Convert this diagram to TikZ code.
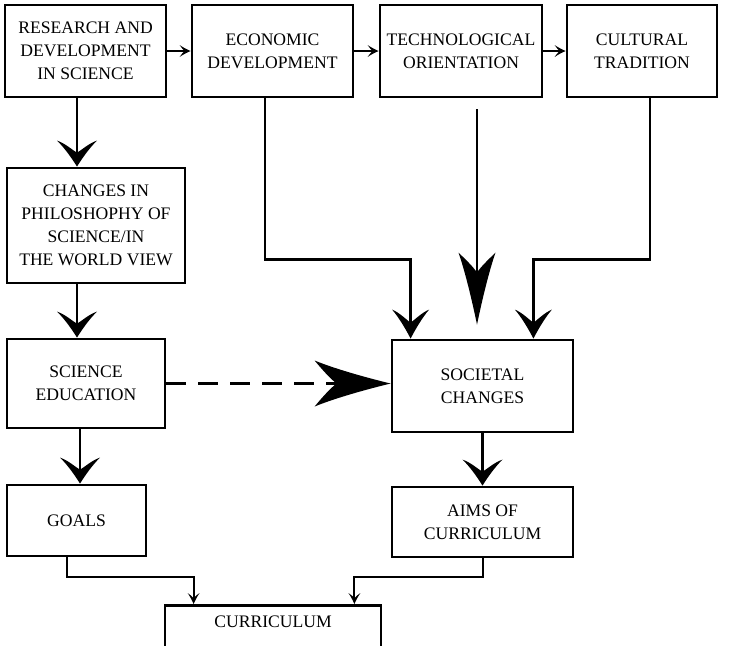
\documentclass[tikz,border=0pt]{standalone}
\usepackage{fontspec}
\setmainfont{Liberation Serif}
\usetikzlibrary{arrows.meta,positioning}

% arrow head with sharp barbs and a curved notch
\newdimen\swnotch
\pgfdeclarearrow{
  name = Swept,
  parameters = {\the\pgfarrowlength,\the\pgfarrowwidth,\the\pgfarrowinset},
  setup code = {
    \pgfarrowssettipend{0pt}
    \pgfarrowssetbackend{-\pgfarrowlength}
    \pgfarrowssetlineend{-.5\pgfarrowlength}
    \pgfarrowssavethe\pgfarrowlength
    \pgfarrowssavethe\pgfarrowwidth
    \pgfarrowssavethe\pgfarrowinset
  },
  drawing code = {
    \swnotch=\pgfarrowinset
    \advance\swnotch by -\pgfarrowlength
    \pgfpathmoveto{\pgfpointorigin}
    \pgfpathcurveto{\pgfpoint{-.35\pgfarrowlength}{.14\pgfarrowwidth}}
                   {\pgfpoint{-.75\pgfarrowlength}{.33\pgfarrowwidth}}
                   {\pgfpoint{-\pgfarrowlength}{.5\pgfarrowwidth}}
    \pgfpathcurveto{\pgfpoint{-.9\pgfarrowlength}{.3\pgfarrowwidth}}
                   {\pgfpointadd{\pgfpoint{\swnotch}{0pt}}{\pgfpoint{-.08\pgfarrowlength}{.1\pgfarrowwidth}}}
                   {\pgfpoint{\swnotch}{0pt}}
    \pgfpathcurveto{\pgfpointadd{\pgfpoint{\swnotch}{0pt}}{\pgfpoint{-.08\pgfarrowlength}{-.1\pgfarrowwidth}}}
                   {\pgfpoint{-.9\pgfarrowlength}{-.3\pgfarrowwidth}}
                   {\pgfpoint{-\pgfarrowlength}{-.5\pgfarrowwidth}}
    \pgfpathcurveto{\pgfpoint{-.75\pgfarrowlength}{-.33\pgfarrowwidth}}
                   {\pgfpoint{-.35\pgfarrowlength}{-.14\pgfarrowwidth}}
                   {\pgfpointorigin}
    \pgfpathclose
    \pgfusepathqfill
  },
  defaults = {length=10pt, width=10pt, inset=4pt}
}

\begin{document}
\begin{tikzpicture}
  [x=0.5pt, y=-0.5pt,
   box/.style={draw, line width=1.4pt, align=center, inner sep=1pt,
               font=\fontsize{8.8}{11.5}\selectfont},
   thin link/.style={line width=1pt, -{Swept[length=5.5pt, width=6pt, inset=2.5pt]}},
   link/.style={line width=1.3pt, -{Swept[length=13pt, width=20pt, inset=6pt]}},
   side link/.style={line width=1.3pt, -{Swept[length=14.5pt, width=18.5pt, inset=6.5pt]}},
   big link/.style={line width=1.3pt, -{Swept[length=36pt, width=18.5pt, inset=10pt]}},
   dash link/.style={line width=1.3pt, dash pattern=on 10pt off 6pt,
                     -{Swept[length=38pt, width=23pt, inset=11pt]}}]
  \useasboundingbox (0,0) rectangle (731,645);
  \clip (0,0) rectangle (731,645);

  \node [name=research, box, minimum width=80.5pt, minimum height=46pt] at (85.5,51) {RESEARCH AND\\DEVELOPMENT\\IN SCIENCE};
  \node [name=econ, box, minimum width=80.5pt, minimum height=46pt] at (272.5,51) {ECONOMIC\\DEVELOPMENT};
  \node [name=tech, box, minimum width=81pt, minimum height=46pt] at (461,51) {TECHNOLOGICAL\\ORIENTATION};
  \node [name=cult, box, minimum width=75pt, minimum height=46pt] at (642,51) {CULTURAL\\TRADITION};
  \node [name=changes, box, minimum width=89pt, minimum height=57.5pt] at (96,225.5) {CHANGES IN\\PHILOSHOPHY OF\\SCIENCE/IN\\THE WORLD VIEW};
  \node [name=sciedu, box, minimum width=79pt, minimum height=44.5pt] at (86,383.5) {SCIENCE\\EDUCATION};
  \node [name=goals, box, minimum width=69.5pt, minimum height=35.5pt] at (76.5,520.5) {GOALS};
  \node [name=societal, box, minimum width=90.5pt, minimum height=46pt] at (482.5,386) {SOCIETAL\\CHANGES};
  \node [name=aims, box, minimum width=90.5pt, minimum height=35pt] at (482.5,522) {AIMS OF\\CURRICULUM};
  \node [name=curriculum, box, anchor=north, minimum width=108pt, text height=10pt, text depth=30pt] at (273,604) {CURRICULUM};

  % top row
  \path (research) edge [thin link] (econ)
        (econ) edge [thin link] (tech)
        (tech) edge [thin link] (cult);

  % left column
  \draw [link] ([xshift=-4.25pt]research.south) -- ([xshift=-4.25pt]research.south |- changes.north);
  \draw [link] ([xshift=-9.5pt]changes.south) -- ([xshift=-9.5pt]changes.south |- sciedu.north);
  \draw [link] ([xshift=-3pt]sciedu.south) -- ([xshift=-3pt]sciedu.south |- goals.north);
  \draw [dash link] (sciedu.east) -- (sciedu.east -| societal.west);

  % into societal changes
  \draw [side link] ([xshift=-3.75pt]econ.south) -- ++(0,161) -| ([xshift=10pt]societal.north west);
  \draw [side link] ([xshift=4pt]cult.south) -- ++(0,161) -| ([xshift=-20.5pt]societal.north east);
  \draw [big link, shorten <=5.5pt, shorten >=7pt] ([xshift=8pt]tech.south) -- ([xshift=8pt]tech.south |- societal.north);
  \path (societal) edge [link] (aims);

  % curriculum
  \draw [thin link] ([xshift=-4.75pt]goals.south) -- ++(0,20) -| ([xshift=15pt]curriculum.north west);
  \draw [thin link] (aims.south) -- ++(0,19) -| ([xshift=-14pt]curriculum.north east);
\end{tikzpicture}
\end{document}
